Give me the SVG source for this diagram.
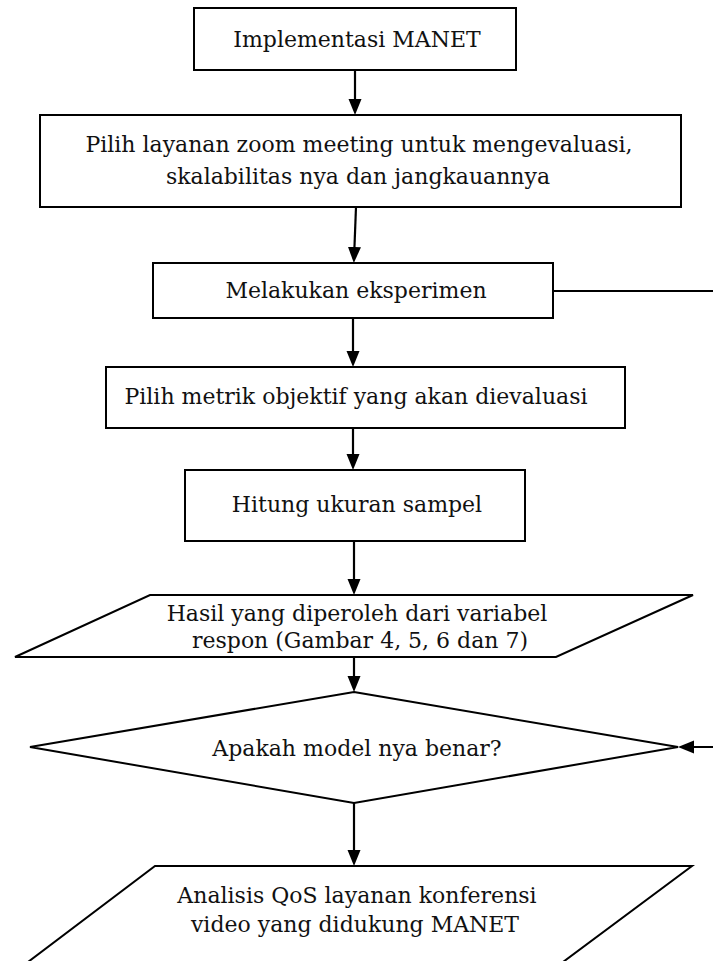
<svg xmlns="http://www.w3.org/2000/svg" width="713" height="961" viewBox="0 0 713 961">
<style>
.shape{fill:#fff;stroke:#000;stroke-width:2}
.t{font-family:"DejaVu Serif","Liberation Serif",serif;font-size:22px;fill:#111;text-anchor:middle}
.c{fill:none;stroke:#000;stroke-width:2.2}
</style>
<defs>
<marker id="ah" markerUnits="userSpaceOnUse" markerWidth="16" markerHeight="14" refX="12" refY="6.5" orient="auto">
<path d="M0,0 L16,6.5 L0,13 z" fill="#000"/>
</marker>
</defs>
<rect width="713" height="961" fill="#fff"/>
<g id="n1"><rect class="shape" x="194" y="8" width="322" height="62"/><text class="t" x="357" y="47">Implementasi MANET</text></g>
<g id="n2"><rect class="shape" x="40" y="115" width="641" height="92"/><text class="t" x="359" y="152">Pilih layanan zoom meeting untuk mengevaluasi,</text><text class="t" x="358" y="184">skalabilitas nya dan jangkauannya</text></g>
<g id="n3"><rect class="shape" x="153" y="263" width="400" height="55"/><text class="t" x="356" y="298">Melakukan eksperimen</text></g>
<g id="n4"><rect class="shape" x="106" y="367" width="519" height="61"/><text class="t" x="356" y="404">Pilih metrik objektif yang akan dievaluasi</text></g>
<g id="n5"><rect class="shape" x="185" y="470" width="340" height="71"/><text class="t" x="357" y="512">Hitung ukuran sampel</text></g>
<g id="n6"><polygon class="shape" points="150,595 693,595 556,657 15,657"/><text class="t" x="357" y="621">Hasil yang diperoleh dari variabel</text><text class="t" x="360" y="648">respon (Gambar 4, 5, 6 dan 7)</text></g>
<g id="n7"><polygon class="shape" points="354,692 678,747 354,803 30,747"/><text class="t" x="357" y="756">Apakah model nya benar?</text></g>
<g id="n8"><polygon class="shape" points="155,866 692,866 563,962 28,962"/><text class="t" x="357" y="903">Analisis QoS layanan konferensi</text><text class="t" x="355" y="932">video yang didukung MANET</text></g>
<g id="connectors">
<line class="c" x1="355" y1="70" x2="355" y2="111" marker-end="url(#ah)"/>
<line class="c" x1="356" y1="207" x2="354" y2="259" marker-end="url(#ah)"/>
<line class="c" x1="353" y1="318" x2="353" y2="363" marker-end="url(#ah)"/>
<line class="c" x1="353" y1="428" x2="353" y2="466" marker-end="url(#ah)"/>
<line class="c" x1="354" y1="541" x2="354" y2="591" marker-end="url(#ah)"/>
<line class="c" x1="354" y1="657" x2="354" y2="688" marker-end="url(#ah)"/>
<line class="c" x1="354" y1="803" x2="354" y2="862" marker-end="url(#ah)"/>
<path class="c" d="M553,291 H720 V747 H682" marker-end="url(#ah)"/>
</g>
</svg>
